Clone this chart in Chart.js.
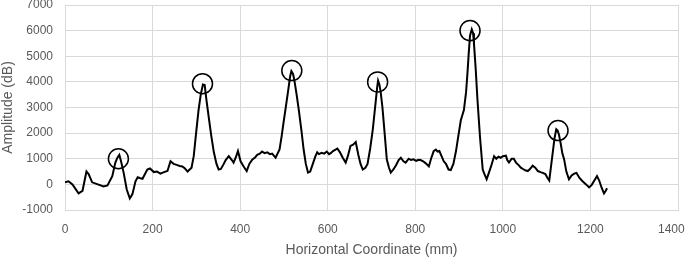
<!DOCTYPE html>
<html>
<head>
<meta charset="utf-8">
<script src="https://cdn.jsdelivr.net/npm/chart.js@4"></script>
<style>
  html, body { margin: 0; padding: 0; background: #fff; }
  #wrap { width: 685px; height: 259px; }
</style>
</head>
<body>
<div id="wrap"><canvas id="chart"></canvas></div>
<script>
// Signal: position (mm) and amplitude (dB)
const positions = [0, 8, 17, 31, 40, 49, 54, 62, 75, 88, 97, 108, 115, 120, 124, 128, 134, 141, 148, 154,
  161, 166, 172, 177, 188, 194, 203, 210, 218, 226, 234, 241, 248, 255, 262, 268, 274, 280, 289, 294,
  300, 305, 310, 315, 319, 323, 328, 334, 340, 346, 351, 356, 362, 367, 374, 381, 385, 390, 395, 401,
  408, 415, 421, 428, 434, 439, 445, 450, 456, 462, 468, 473, 481, 490, 495, 499, 505, 510, 514, 517,
  521, 524, 529, 534, 540, 545, 550, 555, 560, 566, 572, 576, 580, 586, 592, 598, 603, 607, 612, 617,
  622, 628, 634, 641, 646, 652, 658, 664, 670, 675, 680, 686, 691, 697, 703, 710, 713, 715, 718, 721,
  725, 728, 735, 740, 744, 750, 756, 762, 767, 773, 778, 785, 790, 796, 802, 808, 812, 818, 824, 831,
  836, 842, 847, 851, 855, 860, 865, 870, 876, 881, 887, 893, 897, 904, 911, 916, 919, 922, 925, 929,
  932, 934, 938, 942, 948, 954, 958, 963, 968, 973, 980, 985, 990, 995, 1000, 1007, 1010, 1014, 1020, 1025,
  1030, 1036, 1041, 1046, 1051, 1057, 1062, 1068, 1074, 1080, 1086, 1091, 1097, 1102, 1106, 1110, 1114, 1118, 1122, 1125,
  1128, 1132, 1136, 1140, 1145, 1151, 1157, 1163, 1168, 1175, 1182, 1190, 1197, 1203, 1209, 1215, 1220, 1226, 1231, 1235,
  1238];
const amplitudes = [80, 120, 0, -350, -250, 500, 400, 80, 0, -80, -40, 320, 850, 1050, 1150, 900, 450, -200, -550, -380,
  120, 280, 240, 220, 580, 620, 480, 500, 420, 480, 520, 900, 800, 760, 720, 700, 620, 500, 650, 1100,
  2100, 2900, 3500, 3900, 3880, 3300, 2650, 1900, 1250, 800, 580, 600, 780, 950, 1100, 950, 850, 1050, 1300, 900,
  700, 520, 800, 970, 1050, 1150, 1200, 1280, 1220, 1250, 1180, 1200, 1040, 1360, 1900, 2400, 3100, 3700, 4200, 4420,
  4300, 4050, 3500, 2900, 2100, 1360, 800, 460, 500, 800, 1100, 1250, 1180, 1230, 1200, 1280, 1180, 1220, 1300, 1350,
  1400, 1250, 1050, 850, 1100, 1500, 1550, 1650, 1150, 800, 580, 650, 800, 1400, 2150, 3300, 3800, 4050, 3900, 3600,
  3000, 2400, 970, 650, 460, 580, 750, 950, 1040, 900, 850, 1000, 950, 980, 920, 960, 950, 900, 820, 700,
  1000, 1300, 1360, 1280, 1300, 1100, 900, 800, 580, 560, 800, 1300, 1750, 2500, 2900, 3600, 4300, 5100, 5800, 6050,
  5900, 5500, 4500, 3300, 1800, 580, 400, 200, 450, 700, 1100, 1000, 1080, 1040, 1100, 1120, 950, 850, 1000, 1000,
  850, 750, 650, 600, 550, 520, 600, 730, 650, 520, 480, 450, 400, 250, 150, 700, 1250, 1800, 2150, 2100,
  1950, 1600, 1200, 970, 500, 200, 350, 420, 450, 250, 120, 0, -120, -20, 150, 320, 150, -150, -350, -250,
  -150];

// Circled peaks
const peakPositions = [122, 314, 518, 714, 925, 1126];
const peakAmplitudes = [1000, 3930, 4440, 4000, 6000, 2100];

const textColor = '#595959';
const gridColor = '#d9d9d9';
const fontFamily = '"Liberation Sans", Arial, sans-serif';

const signal = positions.map((x, i) => ({ x: x, y: amplitudes[i] }));
const peaks = peakPositions.map((x, i) => ({ x: x, y: peakAmplitudes[i] }));

// plain numbers, no thousands separator
const plainTick = value => String(value);
// last x label sits a bit left so it is not cut at the canvas edge
const xTick = value => value === 1400 ? '1400\u00a0\u00a0\u00a0\u00a0' : String(value);

const ctx = document.getElementById('chart').getContext('2d');
new Chart(ctx, {
  type: 'scatter',
  data: {
    datasets: [
      {
        data: peaks,
        showLine: false,
        pointStyle: 'circle',
        pointRadius: 10,
        pointBackgroundColor: 'rgba(0,0,0,0)',
        pointBorderColor: '#000',
        pointBorderWidth: 1.5
      },
      {
        data: signal,
        showLine: true,
        borderColor: '#000',
        borderWidth: 2,
        pointRadius: 0,
        tension: 0
      }
    ]
  },
  options: {
    responsive: true,
    maintainAspectRatio: false,
    animation: false,
    // the peak circles would otherwise push the plot box down
    layout: { autoPadding: false, padding: { top: 5, right: 7, bottom: 0, left: 0 } },
    plugins: {
      legend: { display: false },
      tooltip: { enabled: false }
    },
    scales: {
      x: {
        type: 'linear',
        min: 0,
        max: 1400,
        ticks: {
          stepSize: 200,
          color: textColor,
          font: { family: fontFamily, size: 12 },
          maxRotation: 0,
          padding: 12,
          callback: xTick
        },
        grid: { color: gridColor, lineWidth: 1, drawTicks: false },
        border: { color: gridColor },
        title: {
          display: true,
          text: 'Horizontal Coordinate (mm)',
          color: textColor,
          font: { family: fontFamily, size: 14 },
          padding: { top: 6, bottom: 0 }
        },
        afterFit: function(scale) {
          // keep the plot box where the reference has it
          scale.height = 49;
          scale.paddingLeft = 0;
          scale.paddingRight = 0;
        }
      },
      y: {
        min: -1000,
        max: 7000,
        ticks: {
          stepSize: 1000,
          color: textColor,
          font: { family: fontFamily, size: 12 },
          padding: 12,
          callback: plainTick
        },
        grid: { color: gridColor, lineWidth: 1, drawTicks: false },
        border: { color: gridColor },
        title: {
          display: true,
          text: 'Amplitude (dB)',
          color: textColor,
          font: { family: fontFamily, size: 14 },
          padding: { top: 0, bottom: 0 }
        },
        afterFit: function(scale) {
          scale.width = 65;
          scale.paddingTop = 0;
          scale.paddingBottom = 0;
        }
      }
    }
  }
});
</script>
</body>
</html>
